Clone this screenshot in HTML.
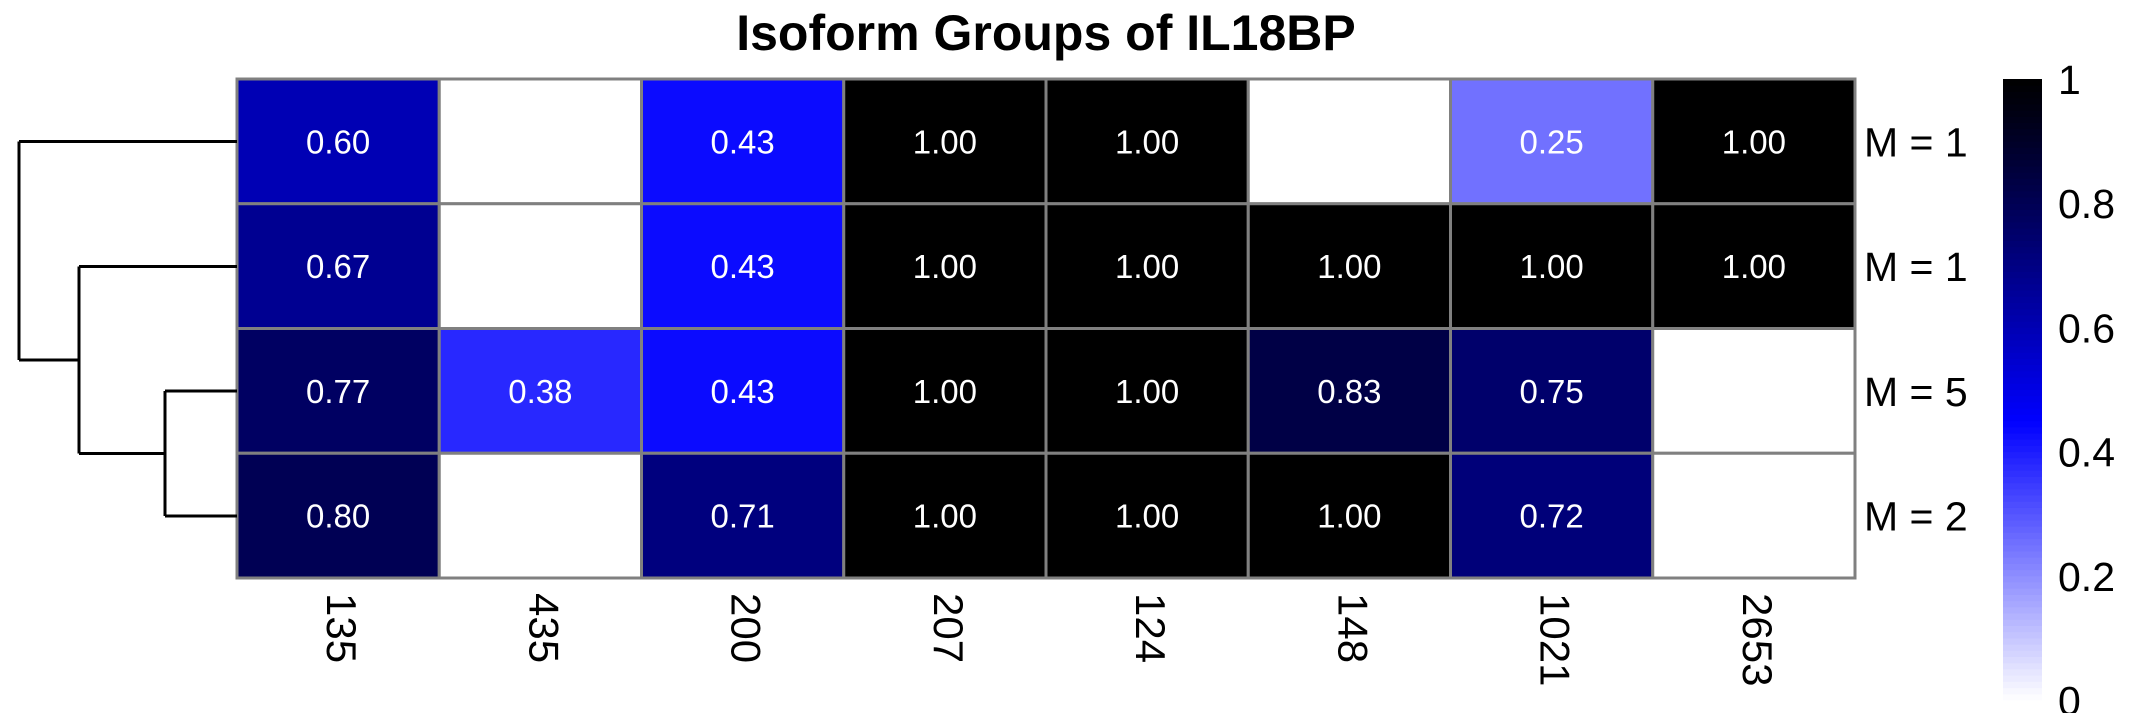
<!DOCTYPE html>
<html><head><meta charset="utf-8"><style>
html,body{margin:0;padding:0;background:#fff;}
svg{display:block;font-family:"Liberation Sans",Arial,sans-serif;}
</style></head><body>
<svg id="chart" width="2136" height="713" viewBox="0 0 2136 713">
<text x="1046" y="50" text-anchor="middle" font-size="50" font-weight="bold">Isoform Groups of IL18BP</text>
<g id="cells"></g>
<g id="dendro" stroke="#000" stroke-width="3" fill="none">
<path d="M237 141.5 H165 M237 266.5 H79 M237 391 H165 M237 516 H165 M165 391 V516 M165 453.5 H79 M79 266.5 V453.5 M79 360 H19 M19 141.5 V360 M19 141.5 H237"/>
</g>
<g id="rowlabels"></g>
<g id="collabels"></g>
<g id="legend"></g>
</svg>
<script>
const columns = ["135","435","200","207","124","148","1021","2653"];
const rows = ["M = 1","M = 1","M = 5","M = 2"];
const row1 = [0.60, null, 0.43, 1.00, 1.00, null, 0.25, 1.00];
const row2 = [0.67, null, 0.43, 1.00, 1.00, 1.00, 1.00, 1.00];
const row3 = [0.77, 0.38, 0.43, 1.00, 1.00, 0.83, 0.75, null];
const row4 = [0.80, null, 0.71, 1.00, 1.00, 1.00, 0.72, null];
const legendTicks = [0, 0.2, 0.4, 0.6, 0.8, 1];

const NS = "http://www.w3.org/2000/svg";
const values = [row1,row2,row3,row4];
const X0=237, X1=1855, Y0=79, Y1=578;
const cw=(X1-X0)/columns.length, rh=(Y1-Y0)/rows.length;
const xPos=i=>X0+i*cw, yPos=j=>Y0+j*rh;
function color(v){
  if(v<=0.45){const t=1-v/0.45;const c=Math.round(255*t);return `rgb(${c},${c},255)`;}
  const t=Math.max(0,1-(v-0.45)/0.55);return `rgb(0,0,${Math.round(255*Math.pow(t,1.1))})`;
}
function mk(tag,attrs,parent){const e=document.createElementNS(NS,tag);for(const k in attrs)e.setAttribute(k,attrs[k]);parent.appendChild(e);return e;}
const cells=document.getElementById('cells');
values.forEach((r,j)=>r.forEach((v,i)=>{
  const rect=mk('rect',{x:xPos(i),y:yPos(j),width:cw,height:rh,fill:v==null?'#fff':color(v),stroke:'#808080','stroke-width':3},cells);
  
  
  if(v!=null){
    const t=mk('text',{x:xPos(i)+cw/2,y:yPos(j)+rh/2+12,'text-anchor':'middle','font-size':33,fill:'#fff'},cells);
    t.textContent=v.toFixed(2);
    
    
  }
}));
const rl=document.getElementById('rowlabels');
rows.forEach((r,j)=>{
  const t=mk('text',{x:1864,y:yPos(j)+rh/2+15,'font-size':41},rl);
  t.textContent=r;
  
  
});
const cl=document.getElementById('collabels');
columns.forEach((c,i)=>{
  const x=xPos(i)+cw/2, y=593;
  const t=mk('text',{x:x,y:y,'font-size':42,transform:`rotate(90 ${x} ${y})`,'dominant-baseline':'middle'},cl);
  t.textContent=c;
  
  
});
const lg=document.getElementById('legend');
const LX=2003, LW=39, LT=79, LB=700;
const ly=v=>LB-(LB-LT)*v;
const N=100;
for(let k=0;k<N;k++){
  const v0=k/N, v1=(k+1)/N;
  const r=mk('rect',{x:LX,y:ly(v1),width:LW,height:ly(v0)-ly(v1)+0.5,fill:color((v0+v1)/2)},lg);
  
  
}
legendTicks.forEach(v=>{
  const t=mk('text',{x:2058,y:ly(v)+15,'font-size':41},lg);
  t.textContent=String(v);
  
  
});
</script>
</body></html>
